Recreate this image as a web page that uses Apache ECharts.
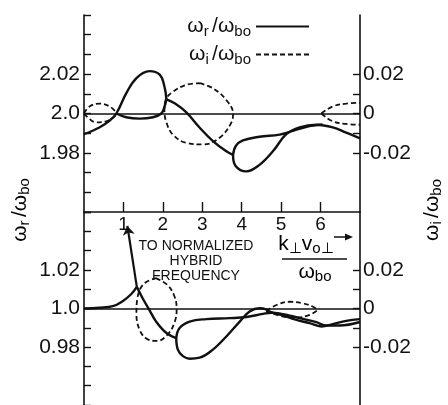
<!DOCTYPE html>
<html>
<head>
<meta charset="utf-8">
<script src="https://cdn.jsdelivr.net/npm/echarts@6/dist/echarts.min.js"></script>
<style>
html, body { margin: 0; padding: 0; background: #fff; }
#main { width: 448px; height: 405px; }
</style>
</head>
<body>
<div id="main"></div>
<script>
// x = k_perp v_0perp / w_bo ; real parts on left axis, imaginary parts on right axis
var xTicks = [1, 2, 3, 4, 5, 6];
var topRealLabels = [1.98, 2.0, 2.02];
var botRealLabels = [0.98, 1.0, 1.02];
var imagLabels = [-0.02, 0, 0.02];
var imagTicks = [-0.02, -0.01, 0, 0.01, 0.02];

// upper panel, w_r / w_bo (solid)
var topReal1 = [[0, 1.9895], [0.39, 1.9929], [0.65, 1.9964], [0.82, 2.0], [1.07, 2.0102], [1.33, 2.018], [1.66, 2.0215], [1.92, 2.0197], [2.04, 2.0137], [2.09, 2.0072]];
var topReal2 = [[0.82, 2.0], [1.07, 1.9981], [1.41, 1.9974], [1.75, 1.9981], [1.96, 2.0], [2.04, 2.0033], [2.09, 2.0072]];
var topReal3 = [[2.09, 2.0072], [2.3, 2.0052], [2.59, 2.0007], [2.93, 1.9929], [3.27, 1.986], [3.61, 1.9808], [3.78, 1.979]];
var topReal4 = [[3.78, 1.979], [3.84, 1.9735], [4.12, 1.9706], [4.45, 1.9739], [4.79, 1.9808], [5.13, 1.9895], [5.47, 1.993], [5.89, 1.9943], [6.31, 1.993], [6.65, 1.9903], [7.0, 1.9874]];
var topReal5 = [[3.78, 1.979], [3.85, 1.9835], [4.03, 1.9863], [4.45, 1.9882], [4.96, 1.9893], [5.3, 1.9912], [5.72, 1.9936], [6.05, 1.9944]];

// upper panel, w_i / w_bo (dashed)
var topImagA = [[0, 0], [0.14, 0.0036], [0.39, 0.005], [0.65, 0.0036], [0.83, 0.0002]];
var topImagB = [[0, 0], [0.14, -0.0028], [0.31, -0.0045], [0.56, -0.004], [0.77, -0.0016], [0.83, 0.0002]];
var topImagC = [[2.93, 0.0154], [3.27, 0.0128], [3.61, 0.0068], [3.78, 0.0], [3.74, -0.0045], [3.44, -0.0123], [3.02, -0.0157], [2.59, -0.0149], [2.25, -0.0106], [2.09, -0.0045], [2.04, 0.0016], [2.07, 0.0068], [2.25, 0.011], [2.59, 0.0145], [2.93, 0.0154]];
var topImagD = [[6.02, 0], [6.31, 0.0036], [6.65, 0.005], [7.0, 0.0054]];
var topImagE = [[6.02, 0], [6.31, -0.004], [6.65, -0.0053], [7.0, -0.0057]];

// lower panel, w_r / w_bo (solid)
var botReal1 = [[0, 1.0], [0.39, 1.0004], [0.73, 1.0012], [0.98, 1.0038], [1.2, 1.0075], [1.34, 1.0112]];
var hybridArrow = [[1.34, 1.0112], [1.1, 1.0428]];
var botReal2 = [[1.34, 1.0112], [1.49, 1.0052], [1.66, 0.9992], [1.83, 0.9932], [2.09, 0.9873], [2.34, 0.9847]];
var botReal3 = [[2.34, 0.9847], [2.38, 0.9787], [2.51, 0.9753], [2.68, 0.974], [2.93, 0.9745], [3.27, 0.9787], [3.61, 0.9855], [3.95, 0.9932], [4.2, 0.9984], [4.45, 1.0001], [4.62, 0.9996], [4.71, 0.9984], [5.05, 0.9963], [5.39, 0.9941], [5.72, 0.9924], [6.02, 0.9907], [6.31, 0.9919], [6.65, 0.9936], [7.0, 0.9945]];
var botReal4 = [[2.34, 0.9847], [2.42, 0.9898], [2.68, 0.9932], [3.1, 0.9945], [3.69, 0.995], [4.12, 0.9956], [4.54, 0.9972], [4.75, 0.9978], [4.95, 0.9975], [5.22, 0.9963], [5.55, 0.9946], [5.89, 0.9929], [6.15, 0.9912], [6.48, 0.9912], [7.0, 0.993]];

// lower panel, w_i / w_bo (dashed)
var botImagA = [[1.82, 0.0157], [2.1, 0.0125], [2.28, 0.007], [2.35, 0.0], [2.3, -0.007], [2.12, -0.0135], [1.85, -0.0168], [1.6, -0.0158], [1.42, -0.0115], [1.33, -0.003], [1.36, 0.006], [1.52, 0.0128], [1.82, 0.0157]];
var botImagB = [[4.62, -0.0013], [4.88, 0.0018], [5.22, 0.0035], [5.55, 0.0027], [5.81, 0.0009], [5.93, -0.0008]];
var botImagC = [[4.62, -0.0013], [5.05, -0.0042], [5.39, -0.0047], [5.72, -0.0033], [5.93, -0.0008]];

var font = 'Liberation Sans';
var ink = '#111';
var rich = {
	w: { fontSize: 21, fontFamily: font, color: ink },
	s: { fontSize: 15, fontFamily: font, color: ink, padding: [10, 0, 0, 0] }
};

function realAxis(grid, min, max, labels) {
	return {
		gridIndex: grid, type: 'value', position: 'left', min: min, max: max, interval: 0.01,
		axisLine: { show: true, onZero: false, lineStyle: { color: ink, width: 1.6 } },
		axisTick: { show: true, inside: true, length: 7, lineStyle: { color: ink, width: 1.4 } },
		axisLabel: {
			customValues: labels, margin: 4, fontSize: 21, fontFamily: font, color: ink,
			formatter: function (v) {
				return Math.abs(v - Math.round(v)) < 1e-9 ? v.toFixed(1) : v.toFixed(2);
			}
		},
		splitLine: { show: false }
	};
}

function imagAxis(grid) {
	return {
		gridIndex: grid, type: 'value', position: 'right', min: -0.05, max: 0.05, interval: 0.01,
		axisLine: { show: true, onZero: false, lineStyle: { color: ink, width: 1.6 } },
		axisTick: { show: true, inside: true, length: 7, customValues: imagTicks, lineStyle: { color: ink, width: 1.4 } },
		axisLabel: {
			customValues: imagLabels, margin: 3, fontSize: 21, fontFamily: font, color: ink,
			formatter: function (v) { return Math.abs(v) < 1e-9 ? '0' : v.toFixed(2); }
		},
		splitLine: { show: false }
	};
}

function curve(name, data, xi, yi) {
	var dashed = name == 'wi';
	return {
		name: name, type: 'line', data: data, xAxisIndex: xi, yAxisIndex: yi,
		smooth: 0.4, symbol: 'none', clip: false, silent: true,
		itemStyle: { color: ink },
		lineStyle: { color: ink, width: dashed ? 1.8 : 2.4, type: dashed ? [5, 3] : 'solid' }
	};
}

var series = [
	curve('wr', topReal1, 0, 0), curve('wr', topReal2, 0, 0), curve('wr', topReal3, 0, 0),
	curve('wr', topReal4, 0, 0), curve('wr', topReal5, 0, 0),
	curve('wi', topImagA, 0, 1), curve('wi', topImagB, 0, 1), curve('wi', topImagC, 0, 1),
	curve('wi', topImagD, 0, 1), curve('wi', topImagE, 0, 1),
	curve('wr', botReal1, 1, 2), curve('wr', botReal2, 1, 2), curve('wr', botReal3, 1, 2),
	curve('wr', botReal4, 1, 2),
	curve('wi', botImagA, 1, 3), curve('wi', botImagB, 1, 3), curve('wi', botImagC, 1, 3)
];

// zero lines of both panels
series[0].markLine = { silent: true, symbol: 'none', label: { show: false },
	lineStyle: { color: ink, width: 1.6, type: 'solid' }, data: [{ yAxis: 2.0 }] };
series[11].markLine = { silent: true, symbol: 'none', label: { show: false },
	lineStyle: { color: ink, width: 1.6, type: 'solid' }, data: [{ yAxis: 1.0 }] };
// branch running off to the normalized hybrid frequency
series[10].markLine = { silent: true, symbol: ['none', 'arrow'], symbolSize: 9, label: { show: false },
	lineStyle: { color: ink, width: 2.2, type: 'solid' },
	data: [[{ coord: hybridArrow[0] }, { coord: hybridArrow[1] }]] };

var chart = echarts.init(document.getElementById('main'));
chart.setOption({
	animation: false,
	backgroundColor: '#fff',
	legend: {
		data: ['wr', 'wi'], orient: 'vertical', right: 133, top: 11, align: 'right',
		itemWidth: 53, itemHeight: 12, itemGap: 5, selectedMode: false,
		itemStyle: { opacity: 0 },
		formatter: function (name) {
			return name == 'wr' ? '{w|ω}{s|r} {w|/ω}{s|bo}' : '{w|ω}{s|i} {w|/ω}{s|bo}';
		},
		textStyle: { rich: rich }
	},
	grid: [
		{ left: 84, right: 88, top: 15, height: 197 },
		{ left: 84, right: 88, top: 212, height: 193 }
	],
	xAxis: [
		{ gridIndex: 0, type: 'value', min: 0, max: 7, show: false },
		{
			gridIndex: 1, type: 'value', position: 'top', min: 0, max: 7, interval: 1,
			axisLine: { onZero: false, lineStyle: { color: ink, width: 1.6 } },
			axisTick: { inside: false, length: 10, customValues: xTicks, lineStyle: { color: ink, width: 1.4 } },
			axisLabel: { inside: true, margin: 3, customValues: xTicks, fontSize: 19, fontFamily: font, color: ink },
			splitLine: { show: false }
		}
	],
	yAxis: [
		realAxis(0, 1.95, 2.05, topRealLabels),
		imagAxis(0),
		realAxis(1, 0.95, 1.05, botRealLabels),
		imagAxis(1)
	],
	graphic: [
		{ type: 'text', x: 20, y: 210, rotation: Math.PI / 2,
			style: { text: '{w|ω}{s|r} {w|/ω}{s|bo}', rich: rich, align: 'center', verticalAlign: 'middle' } },
		{ type: 'text', x: 432, y: 210, rotation: Math.PI / 2,
			style: { text: '{w|ω}{s|i} {w|/ω}{s|bo}', rich: rich, align: 'center', verticalAlign: 'middle' } },
		{ type: 'text', x: 196, y: 239,
			style: { text: 'TO NORMALIZED\nHYBRID\nFREQUENCY', font: '14px "Liberation Sans"', fill: ink,
				align: 'center', verticalAlign: 'top', lineHeight: 15 } },
		{ type: 'text', x: 306, y: 244,
			style: { text: '{w|k}{s|⊥}{w|v}{s|o⊥}', rich: rich, align: 'center', verticalAlign: 'middle' } },
		{ type: 'line', shape: { x1: 282, y1: 259, x2: 347, y2: 259 }, style: { stroke: ink, lineWidth: 1.5 } },
		{ type: 'text', x: 315, y: 272,
			style: { text: '{w|ω}{s|bo}', rich: rich, align: 'center', verticalAlign: 'middle' } },
		{ type: 'line', shape: { x1: 334, y1: 237, x2: 347, y2: 237 }, style: { stroke: ink, lineWidth: 1.5 } },
		{ type: 'polygon', shape: { points: [[345, 233.5], [353, 237], [345, 240.5]] }, style: { fill: ink } }
	],
	series: series
});
</script>
</body>
</html>
